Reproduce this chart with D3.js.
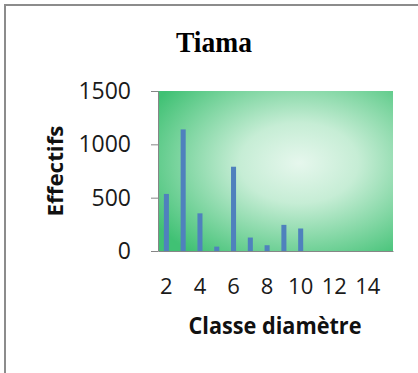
<!DOCTYPE html>
<html>
<head>
<meta charset="utf-8">
<script src="https://cdn.jsdelivr.net/npm/d3@7"></script>
<style>
  html, body { margin: 0; padding: 0; background: #fff; }
  svg { display: block; }
</style>
</head>
<body>
<div id="chart"></div>
<script>
// données
const classes = [2, 3, 4, 5, 6, 7, 8, 9, 10, 11, 12, 13, 14, 15];
const effectifs = [535, 1140, 353, 41, 790, 126, 54, 245, 211, 0, 0, 0, 0, 0];
const yTicks = [0, 500, 1000, 1500];
const xTicks = [2, 4, 6, 8, 10, 12, 14];
const titre = 'Tiama';
const titreX = 'Classe diamètre';
const titreY = 'Effectifs';

const largura = 418, altura = 373;
const m = { left: 158, right: 393, top: 91, bottom: 251 };

const svg = d3.select('#chart')
  .append('svg')
  .attr('width', largura)
  .attr('height', altura)
  .attr('viewBox', '0 0 ' + largura + ' ' + altura);

// cadre
svg.append('path')
  .attr('d', 'M5,373 V5 H418')
  .attr('fill', 'none')
  .attr('stroke', '#8c8c8c')
  .attr('stroke-width', 2);

// fond dégradé
const defs = svg.append('defs');
const grad = defs.append('radialGradient')
  .attr('id', 'fond')
  .attr('cx', 0.6).attr('cy', 0.45)
  .attr('r', 0.72);
grad.append('stop').attr('offset', '0%').attr('stop-color', '#e6f7ed');
grad.append('stop').attr('offset', '35%').attr('stop-color', '#c6edd5');
grad.append('stop').attr('offset', '100%').attr('stop-color', '#40c174');

svg.append('rect')
  .attr('x', m.left).attr('y', m.top)
  .attr('width', m.right - m.left)
  .attr('height', m.bottom - m.top)
  .attr('fill', 'url(#fond)');

const x = d3.scaleBand()
  .domain(classes)
  .range([m.left, m.right])
  .paddingInner(0.7)
  .paddingOuter(0.35);

const y = d3.scaleLinear()
  .domain([0, 1500])
  .range([m.bottom, m.top]);

// barres
svg.append('g')
  .selectAll('rect')
  .data(classes.map((c, i) => ({ c: c, v: effectifs[i] })))
  .enter()
  .append('rect')
  .attr('x', d => x(d.c))
  .attr('y', d => y(d.v))
  .attr('width', x.bandwidth())
  .attr('height', d => m.bottom - y(d.v))
  .attr('fill', '#4f81bd');

// axe Y
const axeY = svg.append('g')
  .attr('transform', 'translate(' + m.left + ',0)')
  .call(d3.axisLeft(y).tickValues(yTicks).tickFormat(d3.format('d'))
    .tickSize(7).tickPadding(20).tickSizeOuter(0));
axeY.select('.domain').attr('stroke', '#868686');
axeY.selectAll('.tick line').attr('stroke', '#868686');
axeY.selectAll('.tick text')
  .attr('font-family', '"Open Sans", sans-serif')
  .attr('font-size', 23)
  .attr('fill', '#1a1a1a');

// axe X
const axeX = svg.append('g')
  .attr('transform', 'translate(0,' + m.bottom + ')')
  .call(d3.axisBottom(x).tickValues(xTicks).tickSize(0).tickPadding(27));
axeX.select('.domain').attr('stroke', '#868686');
axeX.selectAll('.tick text')
  .attr('font-family', '"Open Sans", sans-serif')
  .attr('font-size', 22)
  .attr('fill', '#1a1a1a');

// titres
svg.append('text')
  .attr('x', 214).attr('y', 52)
  .attr('text-anchor', 'middle')
  .attr('font-family', '"Liberation Serif", serif')
  .attr('font-weight', 'bold')
  .attr('font-size', 29)
  .attr('textLength', 76)
  .attr('lengthAdjust', 'spacingAndGlyphs')
  .text(titre);

svg.append('text')
  .attr('x', 275).attr('y', 334)
  .attr('text-anchor', 'middle')
  .attr('font-family', '"Open Sans", sans-serif')
  .attr('font-weight', 'bold')
  .attr('font-size', 24)
  .attr('textLength', 173)
  .attr('lengthAdjust', 'spacingAndGlyphs')
  .attr('fill', '#111')
  .text(titreX);

svg.append('text')
  .attr('transform', 'translate(63,171) rotate(-90)')
  .attr('text-anchor', 'middle')
  .attr('font-family', '"Open Sans", sans-serif')
  .attr('font-weight', 'bold')
  .attr('font-size', 22)
  .attr('textLength', 91)
  .attr('lengthAdjust', 'spacingAndGlyphs')
  .attr('fill', '#111')
  .text(titreY);
</script>
</body>
</html>
